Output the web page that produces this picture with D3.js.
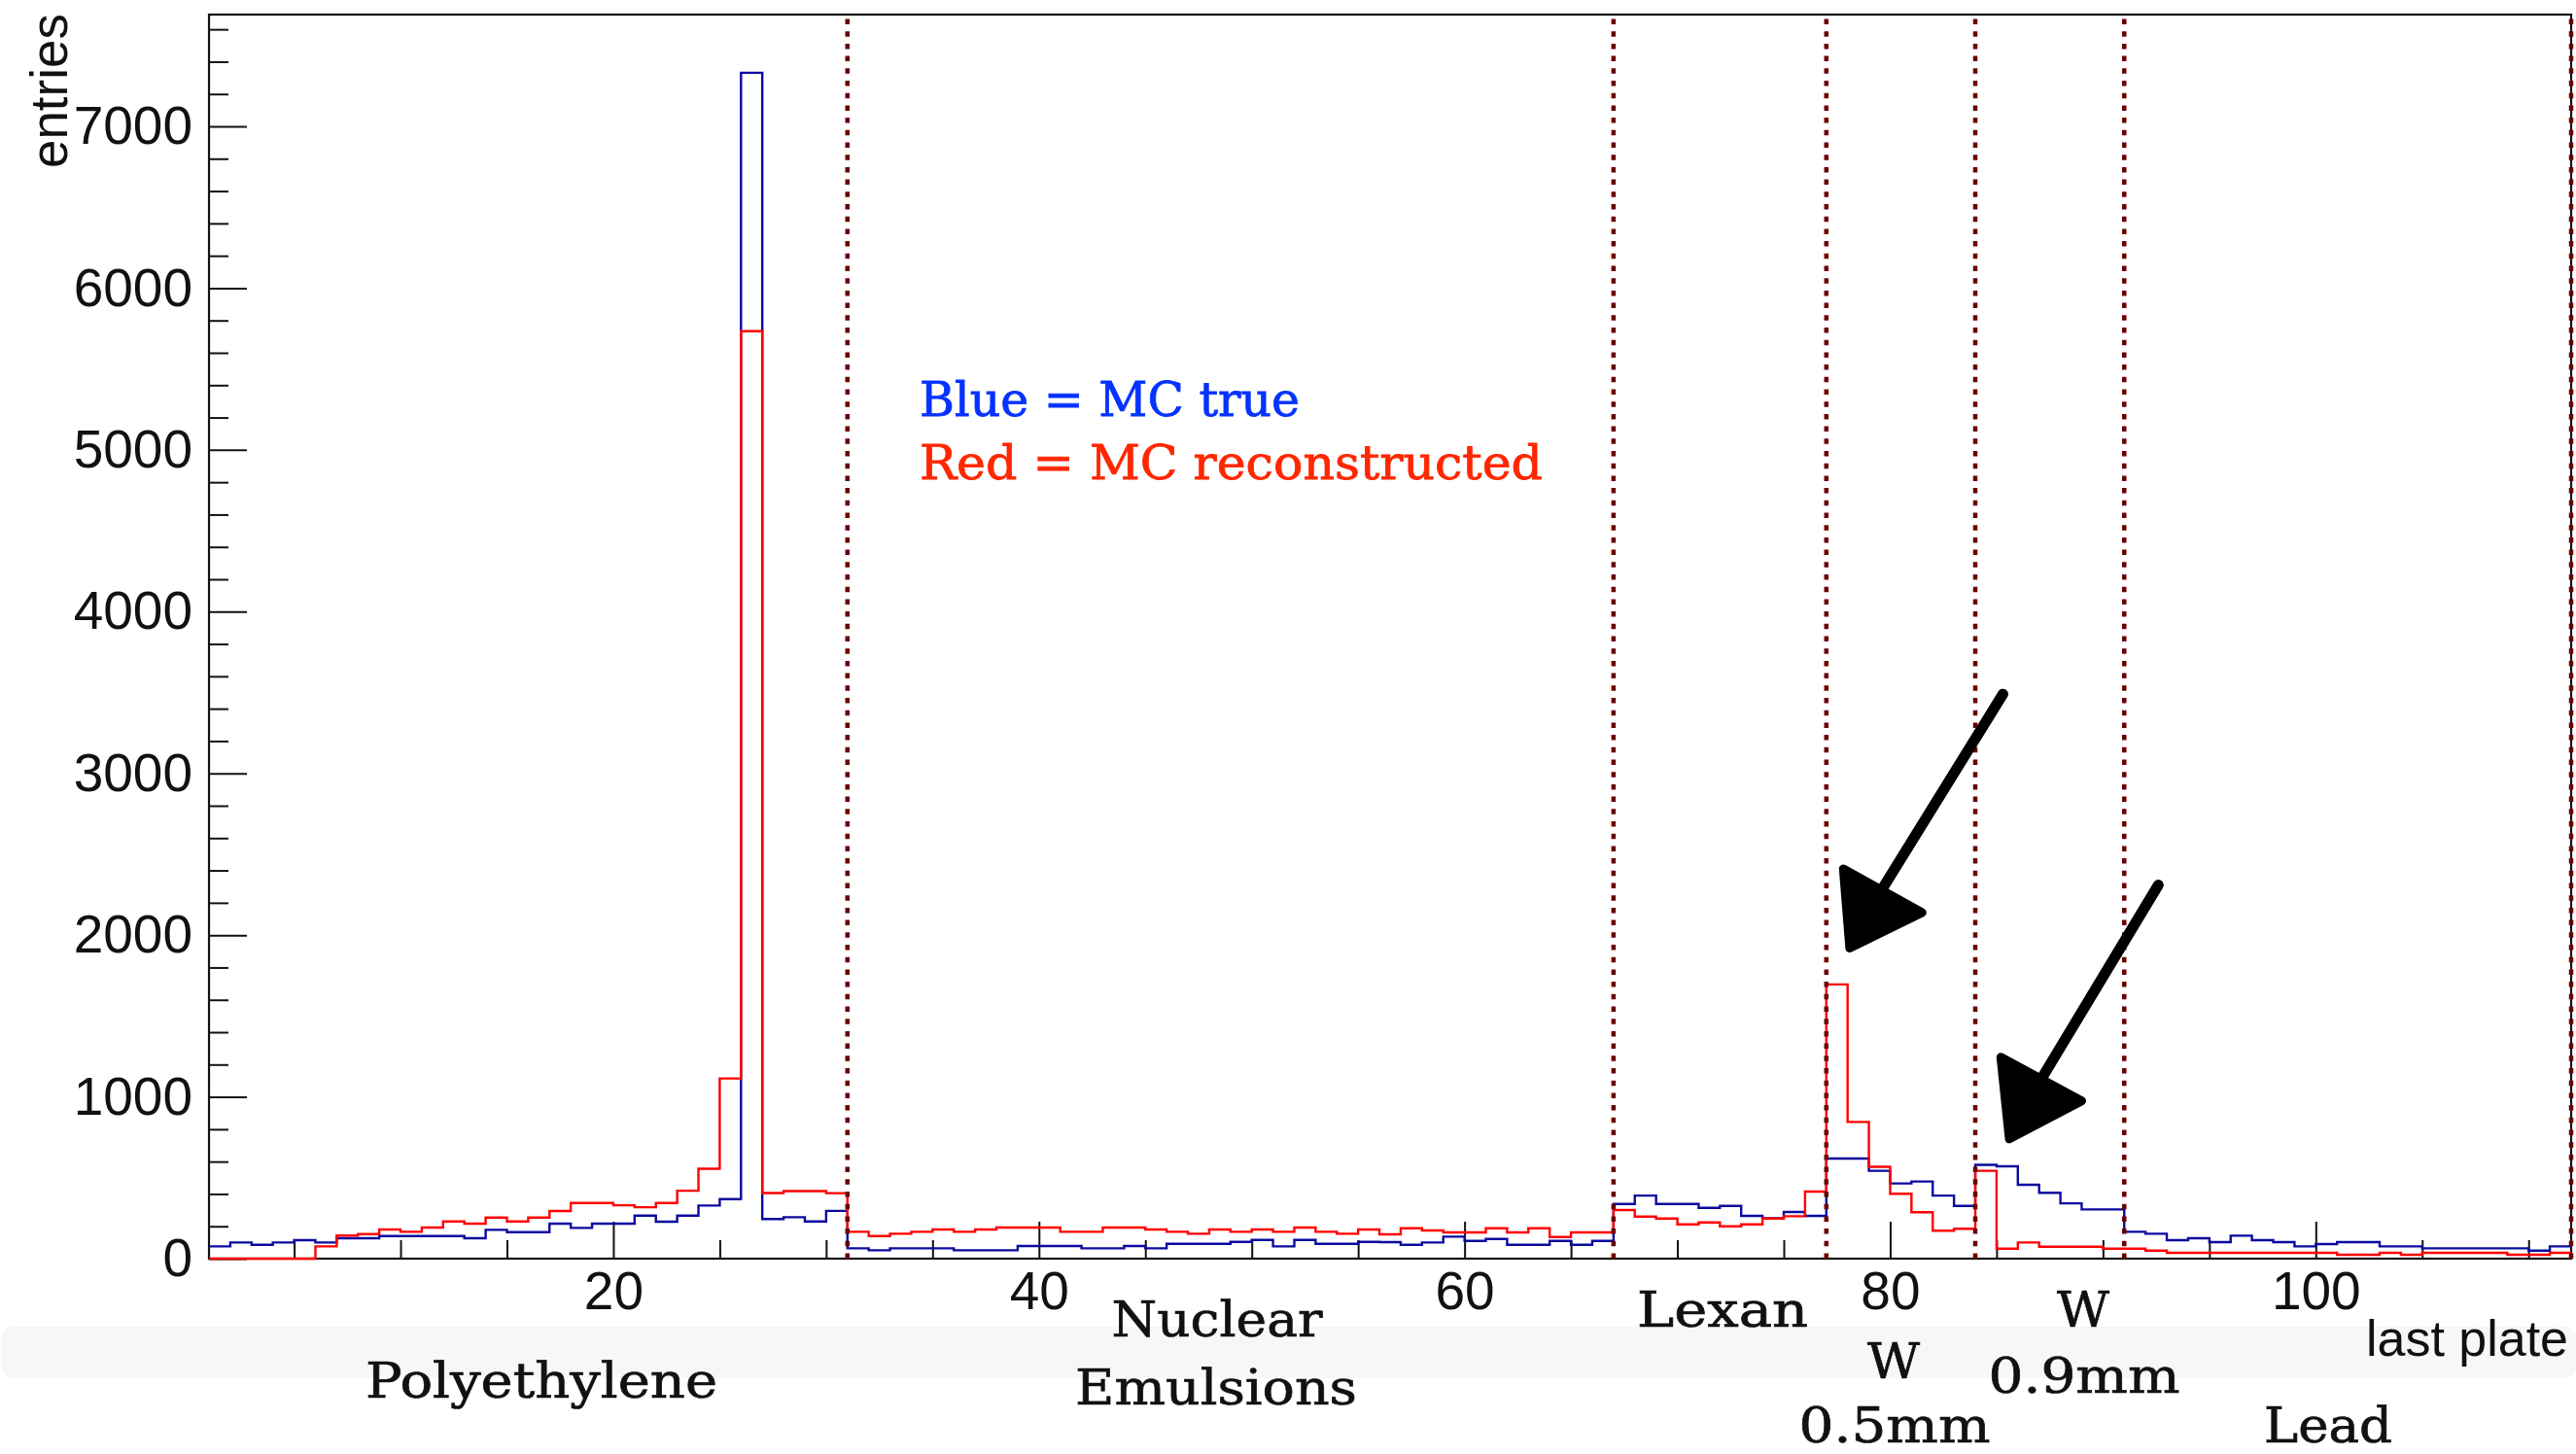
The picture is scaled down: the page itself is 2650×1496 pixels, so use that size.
<!DOCTYPE html>
<html>
<head>
<meta charset="utf-8">
<script src="https://cdn.jsdelivr.net/npm/d3@7"></script>
<style>
  html, body { margin: 0; padding: 0; background: #fff; }
  svg { display: block; }
</style>
</head>
<body>
<svg id="chart"></svg>
<script>
const width = 2650, height = 1496;

// histogram of plate numbers, one bin per plate (low edge 1 .. 111)
const binStart = d3.range(1, 112);

// blue = MC true
const mcTrue = [
  76, 100, 86, 100, 114, 100, 126, 126, 140, 140,
  140, 140, 126, 178, 164, 164, 216, 190, 216, 216,
  266, 228, 266, 328, 368, 7331, 245, 256, 230, 295,
  64, 52, 64, 64, 64, 52, 52, 52, 78, 78,
  78, 64, 64, 78, 64, 92, 92, 92, 104, 116,
  76, 116, 92, 92, 104, 102, 86, 100, 136, 110,
  122, 86, 86, 110, 86, 110, 338, 390, 338, 338,
  314, 326, 264, 250, 288, 264, 619, 619, 543, 465,
  477, 390, 326, 580, 571, 457, 407, 342, 304, 304,
  166, 154, 114, 126, 102, 142, 114, 102, 76, 90,
  102, 102, 76, 76, 64, 64, 64, 64, 64, 50, 76
];

// red = MC reconstructed
const mcReco = [
  0, 0, 0, 0, 0, 76, 143, 152, 180, 166,
  192, 230, 216, 254, 230, 254, 294, 344, 344, 330,
  318, 344, 420, 556, 1114, 5734, 406, 418, 418, 405,
  166, 140, 154, 166, 180, 166, 180, 192, 192, 192,
  166, 166, 192, 192, 180, 166, 154, 180, 166, 180,
  166, 192, 166, 154, 180, 150, 188, 174, 162, 162,
  188, 162, 188, 134, 162, 162, 300, 260, 248, 212,
  224, 200, 212, 248, 262, 415, 1695, 845, 568, 401,
  287, 173, 185, 543, 62, 100, 74, 74, 74, 62,
  62, 50, 36, 36, 36, 36, 36, 36, 36, 36,
  24, 24, 36, 24, 36, 36, 36, 36, 24, 24, 36
];

// material boundaries (plate number)
const dividers = [31, 67, 77, 84, 91, 112];

const xMajor = [20, 40, 60, 80, 100];
const yMajor = [0, 1000, 2000, 3000, 4000, 5000, 6000, 7000];

const legendLines = ["Blue = MC true", "Red = MC reconstructed"];

const svg = d3.select("#chart")
  .attr("width", width)
  .attr("height", height)
  .attr("viewBox", `0 0 ${width} ${height}`);

svg.append("rect").attr("width", width).attr("height", height).attr("fill", "#fff");

const x = d3.scaleLinear().domain([1, 112]).range([215, 2645]);
const y = d3.scaleLinear().domain([0, 7691]).range([1295, 15]);

const sans = "'Liberation Sans', Arial, Helvetica, sans-serif";
const serif = "'DejaVu Serif', 'Liberation Serif', serif";

// light grey band behind the material names
svg.append("rect")
  .attr("x", 2).attr("y", 1365)
  .attr("width", width - 2).attr("height", 53)
  .attr("rx", 12)
  .attr("fill", "#f7f7f7");

// frame
svg.append("rect")
  .attr("x", x(1)).attr("y", y(7691))
  .attr("width", x(112) - x(1)).attr("height", y(0) - y(7691))
  .attr("fill", "none")
  .attr("stroke", "#111")
  .attr("stroke-width", 2.2);

// axes (ROOT style: ticks pointing inside)
const xMinor = d3.range(5, 111, 5).filter(v => v % 20 !== 0);
const yMinor = d3.range(200, 7691, 200).filter(v => v % 1000 !== 0);

function styleAxis(g) {
  g.attr("font-family", sans).attr("font-size", 55);
  g.select(".domain").remove();
  g.selectAll(".tick line").attr("stroke", "#111").attr("stroke-width", 2);
  g.selectAll(".tick text").attr("fill", "#111");
}

svg.append("g")
  .attr("transform", `translate(0,${y(0)})`)
  .call(d3.axisBottom(x).tickValues(xMajor).tickFormat(d3.format("d"))
    .tickSize(-38).tickSizeOuter(0).tickPadding(13))
  .call(styleAxis);

svg.append("g")
  .attr("transform", `translate(0,${y(0)})`)
  .call(d3.axisBottom(x).tickValues(xMinor).tickSize(-19).tickSizeOuter(0).tickFormat(""))
  .call(styleAxis);

svg.append("g")
  .attr("transform", `translate(${x(1)},0)`)
  .call(d3.axisLeft(y).tickValues(yMajor).tickFormat(d3.format("d"))
    .tickSize(-39).tickSizeOuter(0).tickPadding(17))
  .call(styleAxis);

svg.append("g")
  .attr("transform", `translate(${x(1)},0)`)
  .call(d3.axisLeft(y).tickValues(yMinor).tickSize(-20).tickSizeOuter(0).tickFormat(""))
  .call(styleAxis);

// y title
svg.append("text")
  .attr("transform", `translate(69,14) rotate(-90)`)
  .attr("text-anchor", "end")
  .attr("font-family", sans)
  .attr("font-size", 53)
  .attr("fill", "#111")
  .text("entries");

// histograms
svg.append("clipPath").attr("id", "plotArea")
  .append("rect")
  .attr("x", x(1)).attr("y", y(7691))
  .attr("width", x(112) - x(1)).attr("height", y(0) - y(7691) + 2);

const step = d3.line()
  .x(d => x(d[0]))
  .y(d => y(d[1]))
  .curve(d3.curveStepAfter);

function histPoints(values) {
  const pts = binStart.map((b, i) => [b, values[i]]);
  pts.push([112, values[values.length - 1]]);
  return pts;
}

const plot = svg.append("g").attr("clip-path", "url(#plotArea)");

plot.append("path")
  .datum(histPoints(mcTrue))
  .attr("fill", "none")
  .attr("stroke", "#0a0a9e")
  .attr("stroke-width", 2.4)
  .attr("d", step);

plot.append("path")
  .datum(histPoints(mcReco))
  .attr("fill", "none")
  .attr("stroke", "#ff0000")
  .attr("stroke-width", 2.4)
  .attr("d", step);

// material boundaries
svg.selectAll("line.divider")
  .data(dividers)
  .enter().append("line")
  .attr("class", "divider")
  .attr("x1", d => x(d)).attr("x2", d => x(d))
  .attr("y1", y(0)).attr("y2", y(7691))
  .attr("stroke", "#6a0000")
  .attr("stroke-width", 4.5)
  .attr("stroke-dasharray", "5.5,7.2");

// legend text
const legendColors = ["#0432ff", "#ff2600"];
const legendWidths = [391, 641];
legendLines.forEach((t, i) => {
  svg.append("text")
    .attr("x", 946)
    .attr("y", 428 + i * 65)
    .attr("font-family", serif)
    .attr("font-size", 49)
    .attr("fill", legendColors[i])
    .attr("stroke", legendColors[i])
    .attr("stroke-width", 0.8)
    .attr("textLength", legendWidths[i])
    .attr("lengthAdjust", "spacingAndGlyphs")
    .text(t);
});

// material names below the axis
const labelLayout = [
  { t: "Polyethylene", cx: 557, y: 1438, w: 362 },
  { t: "Nuclear", cx: 1252, y: 1375, w: 217 },
  { t: "Emulsions", cx: 1251, y: 1445, w: 290 },
  { t: "Lexan", cx: 1772, y: 1365, w: 176 },
  { t: "W", cx: 1948, y: 1418, w: 54 },
  { t: "0.5mm", cx: 1949, y: 1484, w: 197 },
  { t: "W", cx: 2143, y: 1365, w: 54 },
  { t: "0.9mm", cx: 2144, y: 1433, w: 197 },
  { t: "Lead", cx: 2395, y: 1484, w: 132 }
];
labelLayout.forEach(d => {
  svg.append("text")
    .attr("x", d.cx - d.w / 2)
    .attr("y", d.y)
    .attr("font-family", serif)
    .attr("font-size", 50)
    .attr("fill", "#111")
    .attr("stroke", "#111")
    .attr("stroke-width", 0.7)
    .attr("textLength", d.w)
    .attr("lengthAdjust", "spacingAndGlyphs")
    .text(d.t);
});

svg.append("text")
  .attr("x", 2434).attr("y", 1395)
  .attr("font-family", sans)
  .attr("font-size", 52)
  .attr("fill", "#111")
  .attr("textLength", 208)
  .attr("lengthAdjust", "spacingAndGlyphs")
  .text("last plate");

// hand drawn arrows pointing at the tungsten peaks (data coordinates)
const arrows = [
  { tail: [85.3, 3490], neck: [79.6, 2280], tip: [78.1, 1920], b1: [77.8, 2410], b2: [81.5, 2140] },
  { tail: [92.6, 2310], neck: [87.1, 1110], tip: [85.6, 740], b1: [85.2, 1245], b2: [89.0, 975] }
];
const pt = d => [x(d[0]), y(d[1])];
arrows.forEach(a => {
  svg.append("path")
    .attr("d", d3.line()([pt(a.tail), pt(a.neck)]))
    .attr("stroke", "#000")
    .attr("stroke-width", 11)
    .attr("stroke-linecap", "round")
    .attr("fill", "none");
  svg.append("path")
    .attr("d", d3.line()([pt(a.tip), pt(a.b1), pt(a.b2)]) + "Z")
    .attr("fill", "#000")
    .attr("stroke", "#000")
    .attr("stroke-width", 9)
    .attr("stroke-linejoin", "round");
});
</script>
</body>
</html>
